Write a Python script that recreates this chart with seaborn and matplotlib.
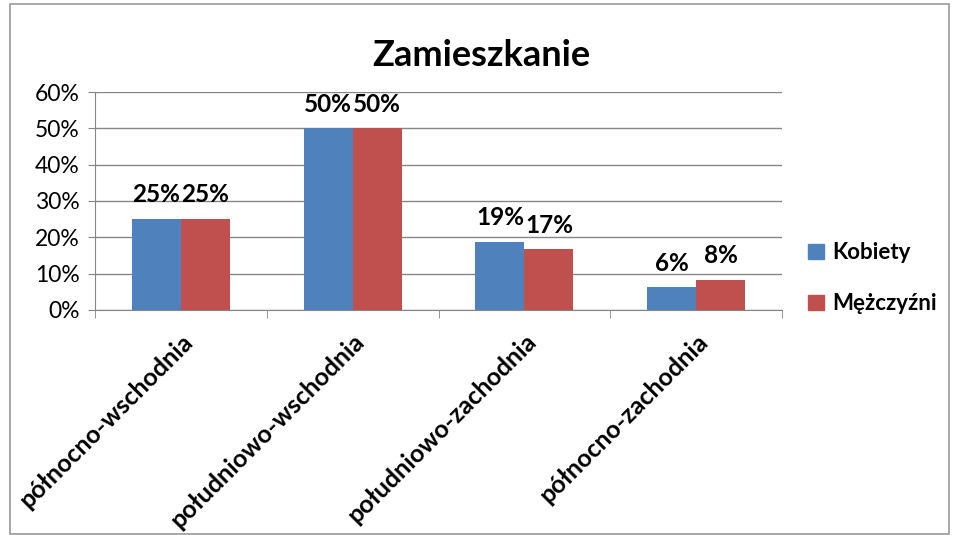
import numpy as np
import pandas as pd
import matplotlib
matplotlib.use("Agg")
import matplotlib.pyplot as plt
import seaborn as sns
from matplotlib.patches import Rectangle

# data (percent)
regions = ["północno-wschodnia", "południowo-wschodnia",
           "południowo-zachodnia", "północno-zachodnia"]
kobiety = [25.0, 50.0, 18.75, 6.25]
mezczyzni = [25.0, 50.0, 16.67, 8.33]
groups = ["Kobiety", "Mężczyźni"]
colors = ["#4F81BD", "#C0504D"]

df = pd.DataFrame({
    "region": regions * 2,
    "value": kobiety + mezczyzni,
    "group": [groups[0]] * 4 + [groups[1]] * 4,
})

sns.set_style("white")
plt.rcParams["font.family"] = ["Lato", "DejaVu Sans"]
plt.rcParams["text.color"] = "black"
plt.rcParams["xtick.color"] = "black"
plt.rcParams["ytick.color"] = "black"

fig = plt.figure(figsize=(9.54, 5.35), dpi=100)
ax = fig.add_axes([0.0996, 0.4206, 0.7202, 0.4074])

sns.barplot(data=df, x="region", y="value", hue="group", palette=colors,
            width=0.57, ax=ax, saturation=1, legend=False)

for p, v in zip(ax.patches, kobiety + mezczyzni):
    p.set_edgecolor("none")
    ax.text(p.get_x() + p.get_width() / 2, p.get_height() + 3.5,
            f"{v:.0f}%", ha="center", va="bottom", fontsize=17.5,
            fontweight="bold")

ax.set_ylim(0, 60)
ax.set_xlim(-0.5, 3.5)
ax.set_yticks(np.arange(0, 61, 10))
ax.set_yticklabels([f"{t}%" for t in range(0, 61, 10)], fontsize=16.5)
ax.yaxis.grid(True, color="#868686", linewidth=1)
ax.set_axisbelow(True)
for s in ["top", "right"]:
    ax.spines[s].set_visible(False)
for s in ["left", "bottom"]:
    ax.spines[s].set_color("#868686")
ax.tick_params(axis="y", which="major", left=True, length=5, color="#868686",
               pad=6)

ax.set_xticks(range(4))
ax.set_xticklabels(regions, rotation=45, ha="right", rotation_mode="anchor",
                   fontsize=18, fontweight="bold")
ax.tick_params(axis="x", which="major", length=0, pad=14)
ax.set_xticks(np.arange(-0.5, 4, 1), minor=True)
ax.tick_params(axis="x", which="minor", bottom=True, length=6,
               color="#868686")
ax.set_xlabel("")
ax.set_ylabel("")

fig.text(0.505, 0.897, "Zamieszkanie", ha="center", va="center",
         fontsize=26, fontweight="bold")

handles = [Rectangle((0, 0), 1, 1, color=c) for c in colors]
fig.legend(handles, groups, loc="center left", bbox_to_anchor=(0.826, 0.48),
           frameon=False, prop={"size": 16, "weight": "bold"},
           handlelength=0.7, handleheight=0.7, handletextpad=0.4,
           labelspacing=1.35)

fig.patches.append(Rectangle((0.011, 0.002), 0.984, 0.99,
                             transform=fig.transFigure, fill=False,
                             edgecolor="#9a9a9a", linewidth=1.2))

fig.savefig("out.png", dpi=100)
